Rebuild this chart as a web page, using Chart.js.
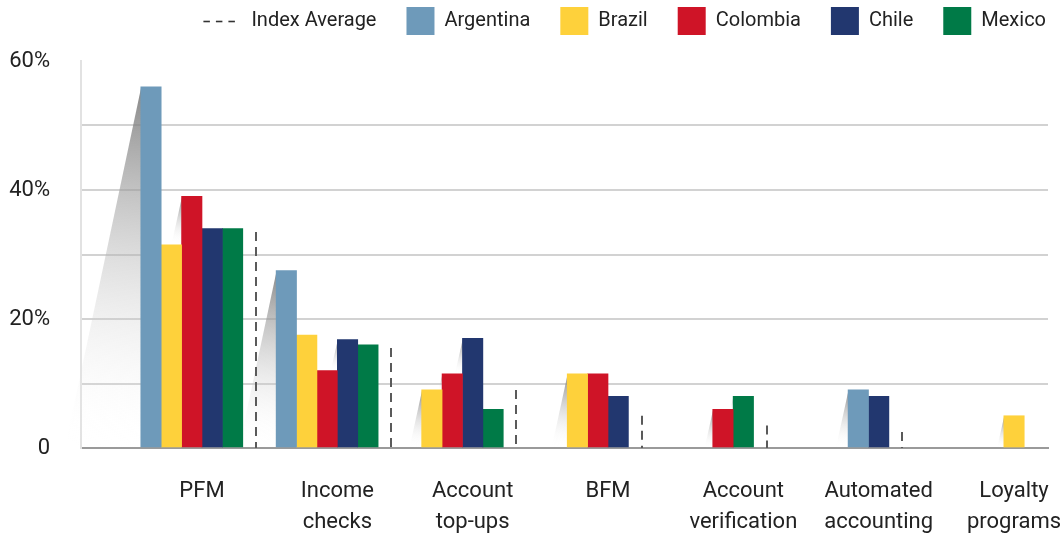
<!DOCTYPE html>
<html>
<head>
<meta charset="utf-8">
<script src="https://cdn.jsdelivr.net/npm/chart.js@4.4.1/dist/chart.umd.min.js"></script>
<style>
  html, body { margin: 0; padding: 0; background: #ffffff; }
  #wrap { width: 1064px; height: 533px; position: relative; }
</style>
</head>
<body>
<div id="wrap"><canvas id="c" width="1064" height="533"></canvas></div>
<script>
// ---- Data ----
const categories = [
  ['PFM'],
  ['Income', 'checks'],
  ['Account', 'top-ups'],
  ['BFM'],
  ['Account', 'verification'],
  ['Automated', 'accounting'],
  ['Loyalty', 'programs']
];
const seriesNames = ['Argentina', 'Brazil', 'Colombia', 'Chile', 'Mexico'];
const argentina = [56, 27.5, null, null, null, 9, null];
const brazil    = [31.5, 17.5, 9, 11.5, null, null, 5];
const colombia  = [39, 12, 11.5, 11.5, 6, null, null];
const chile     = [34, 16.8, 17, 8, null, 8, null];
const mexico    = [34, 16, 6, null, 8, null, null];
const indexAverage = [33.5, 15.5, 9, 5, 3.5, 2.5, null];
const indexAverageName = 'Index Average';
const yTickLabels = { 0: '0', 20: '20%', 40: '40%', 60: '60%' };

// ---- Styles ----
const seriesColors = ['#6e9aba', '#fed13b', '#cf1427', '#22376f', '#007a47'];
const seriesValues = [argentina, brazil, colombia, chile, mexico];
const FONT = "Roboto, 'Liberation Sans', sans-serif";
const BAR_W = 20.4;
const LEGEND_SHIFT = 28;

const toPoints = arr => arr.map((v, i) => ({ x: i, y: v }));

const datasets = seriesValues.map((vals, d) => ({
  label: seriesNames[d],
  data: toPoints(vals),
  backgroundColor: seriesColors[d],
  borderWidth: 0,
  barThickness: BAR_W,
  skipNull: true,
  yAxisID: 'y'
}));
datasets.push({
  label: indexAverageName,
  data: toPoints(indexAverage),
  backgroundColor: 'rgba(0,0,0,0)',
  borderColor: 'rgba(0,0,0,0)',
  borderWidth: 0,
  barThickness: BAR_W,
  skipNull: true,
  yAxisID: 'y'
});
const AVG_INDEX = datasets.length - 1;

// Shadows cast to the left of bars that rise above their left neighbour
const shadowPlugin = {
  id: 'barShadows',
  beforeDatasetsDraw(chart) {
    const ctx = chart.ctx;
    const base = chart.scales.y.getPixelForValue(0);
    ctx.save();
    for (let i = 0; i < categories.length; i++) {
      let prevTop = base;
      for (let d = 0; d < seriesValues.length; d++) {
        if (seriesValues[d][i] == null) continue;
        const el = chart.getDatasetMeta(d).data[i];
        if (!el) continue;
        const top = el.y;
        const left = el.x - el.width / 2;
        if (top < prevTop - 0.5) {
          const h = prevTop - top;
          const dx = h * 0.21;
          const g = ctx.createLinearGradient(left, top, left - dx * 0.5, prevTop);
          g.addColorStop(0, 'rgba(115,115,115,0.85)');
          g.addColorStop(1, 'rgba(255,255,255,0)');
          ctx.fillStyle = g;
          ctx.beginPath();
          ctx.moveTo(left + 0.5, top);
          ctx.lineTo(left + 0.5, prevTop);
          ctx.lineTo(left - dx, prevTop);
          ctx.closePath();
          ctx.fill();
        }
        prevTop = top;
      }
    }
    ctx.restore();
  }
};

// Legend sits further right than the plot area
const legendShiftPlugin = {
  id: 'legendShift',
  afterLayout(chart) {
    const lg = chart.legend;
    if (!lg) return;
    lg.left += LEGEND_SHIFT;
    lg.right += LEGEND_SHIFT;
    (lg.legendHitBoxes || []).forEach(hb => { hb.left += LEGEND_SHIFT; });
  }
};

// Index average dashed markers + legend dashes
const avgPlugin = {
  id: 'indexAverage',
  afterDatasetsDraw(chart) {
    const ctx = chart.ctx;
    const base = chart.scales.y.getPixelForValue(0);
    const meta = chart.getDatasetMeta(AVG_INDEX);
    ctx.save();
    ctx.strokeStyle = '#5a5a5a';
    ctx.lineWidth = 2;
    ctx.setLineDash([9, 6]);
    meta.data.forEach((el, i) => {
      if (indexAverage[i] == null) return;
      const x = Math.round(el.x + 3);
      ctx.beginPath();
      ctx.moveTo(x, el.y);
      ctx.lineTo(x, base);
      ctx.stroke();
    });
    ctx.restore();
  },
  afterDraw(chart) {
    const lg = chart.legend;
    if (!lg || !lg.legendItems) return;
    const idx = lg.legendItems.findIndex(it => it.text === indexAverageName);
    if (idx < 0) return;
    const hb = lg.legendHitBoxes[idx];
    const ctx = chart.ctx;
    const y = Math.round(hb.top + hb.height / 2) + 0.5;
    ctx.save();
    ctx.strokeStyle = '#333';
    ctx.lineWidth = 1.6;
    for (let k = 0; k < 3; k++) {
      const x0 = hb.left - 10 + k * 12.5;
      ctx.beginPath();
      ctx.moveTo(x0, y);
      ctx.lineTo(x0 + 6.5, y);
      ctx.stroke();
    }
    ctx.restore();
  }
};

const zeroPad = (s) => { s.paddingLeft = 0; s.paddingRight = 0; s.paddingTop = 0; s.paddingBottom = 0; };

new Chart(document.getElementById('c'), {
  type: 'bar',
  data: { datasets },
  plugins: [shadowPlugin, avgPlugin, legendShiftPlugin],
  options: {
    responsive: false,
    animation: false,
    layout: { padding: { top: -23, right: 16, left: 8, bottom: 0 } },
    plugins: {
      tooltip: { enabled: false },
      legend: {
        position: 'top',
        align: 'end',
        labels: {
          boxWidth: 28,
          boxHeight: 28,
          padding: 30,
          color: '#222',
          font: { family: FONT, size: 20 },
          sort: (a, b) => {
            const ka = a.text === indexAverageName ? -1 : a.datasetIndex;
            const kb = b.text === indexAverageName ? -1 : b.datasetIndex;
            return ka - kb;
          }
        }
      }
    },
    scales: {
      x: {
        type: 'linear',
        min: -0.894,
        max: 6.251,
        offset: false,
        grid: { display: false, drawTicks: false },
        border: { display: true, color: '#9a9a9a', width: 2 },
        afterBuildTicks: (scale) => { scale.ticks = categories.map((c, i) => ({ value: i })); },
        afterFit: (s) => { zeroPad(s); s.height = 85; },
        ticks: {
          autoSkip: false,
          maxRotation: 0,
          minRotation: 0,
          padding: 28,
          color: '#222',
          font: { family: FONT, size: 22, lineHeight: 1.4 },
          callback: (v) => categories[v] || ''
        }
      },
      xTop: {
        type: 'linear',
        position: 'top',
        display: true,
        grid: { display: false, drawTicks: false },
        border: { display: false },
        ticks: { display: false },
        afterFit: (s) => { zeroPad(s); s.height = 16; }
      },
      y: {
        position: 'left',
        min: 0,
        max: 60,
        grid: {
          drawTicks: false,
          lineWidth: 2,
          color: (c) => (c.tick && (c.tick.value === 0 || c.tick.value === 60)) ? 'rgba(0,0,0,0)' : '#d2d2d2'
        },
        border: { display: true, color: '#e2e2e2', width: 2 },
        afterFit: (s) => { zeroPad(s); s.width = 73; },
        ticks: {
          stepSize: 10,
          padding: 31,
          color: '#222',
          font: { family: FONT, size: 22 },
          callback: (v) => (yTickLabels[v] !== undefined ? yTickLabels[v] : '')
        }
      }
    }
  }
});
</script>
</body>
</html>
